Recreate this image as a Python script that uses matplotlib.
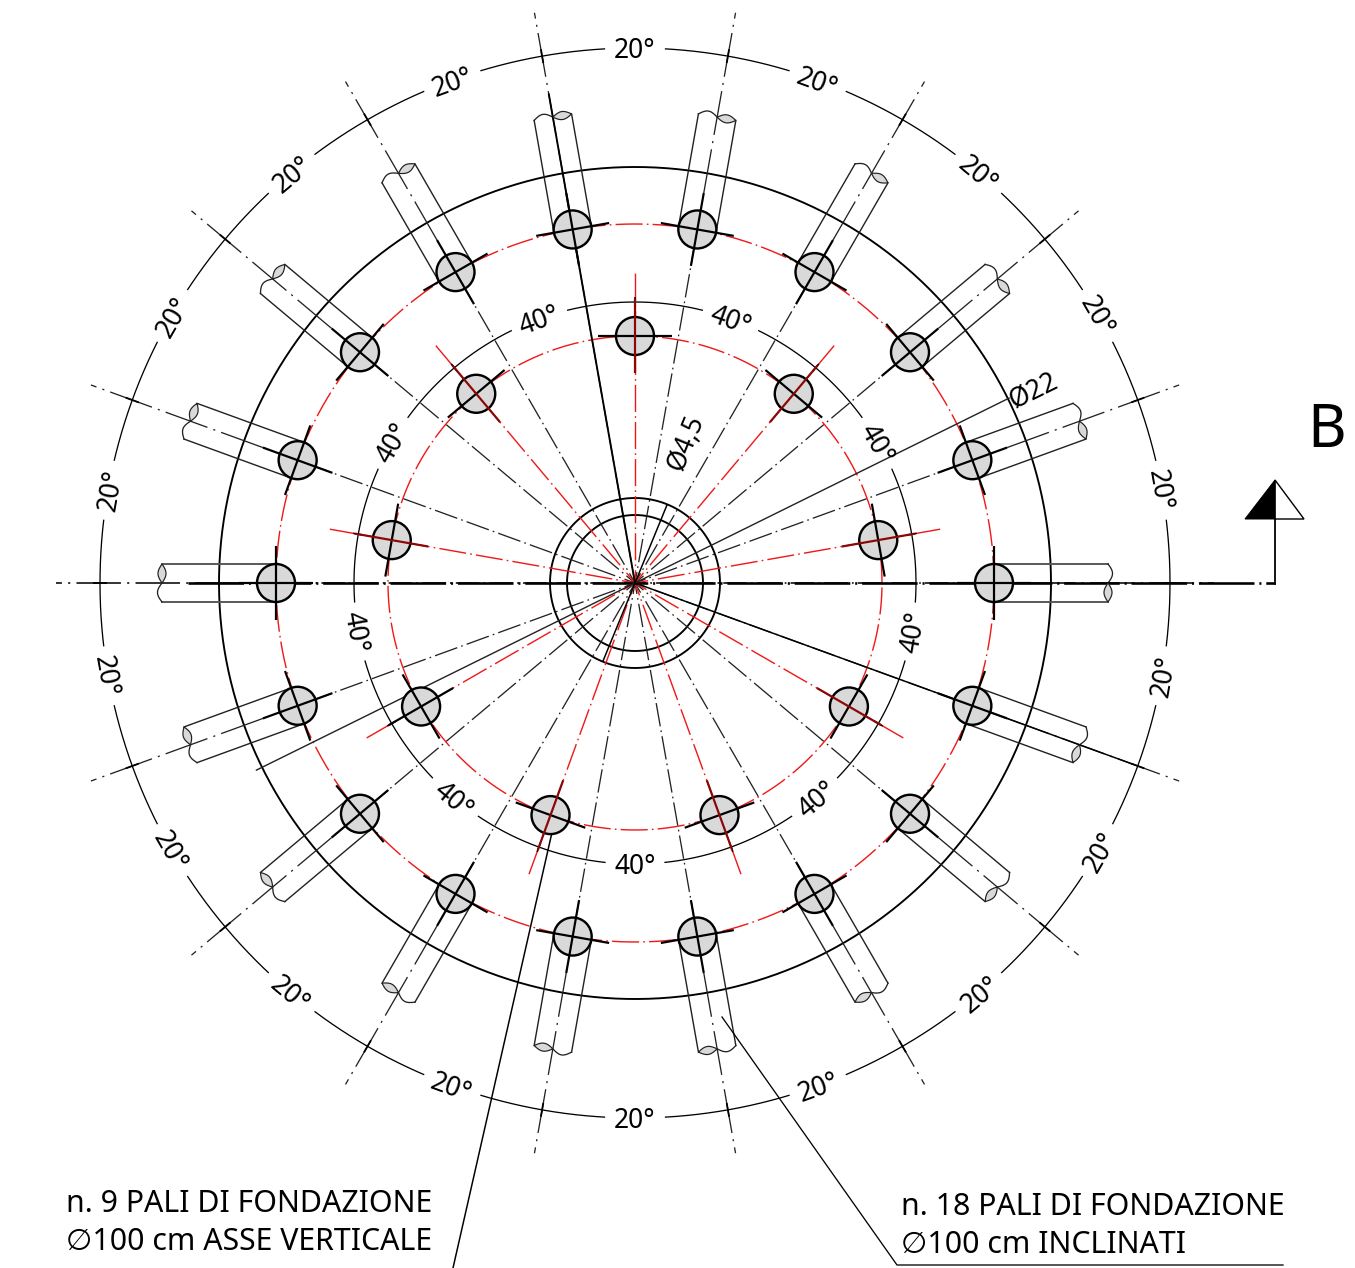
import numpy as np
import matplotlib
matplotlib.use("Agg")
import matplotlib.pyplot as plt
from matplotlib.patches import Circle, Polygon

plt.rcParams['font.family'] = ['Noto Sans', 'DejaVu Sans']
plt.rcParams['lines.scale_dashes'] = False

# --- data -------------------------------------------------------------
outer_pile_angles = [0, 20, 40, 60, 80, 100, 120, 140, 160, 180, 200, 220, 240, 260, 280, 300, 320, 340]
inner_pile_angles = [10, 50, 90, 130, 170, 210, 250, 290, 330]
inner_black_angles = [210]
arc20_label_angles = [90, 70, 50, 30, 10, -10, -30, -50, -70, -90, -110, -130, -150, -170, 170, 150, 130, 110]
arc40_label_angles = [70, 30, -10, -50, -90, -130, -170, 150, 110]
arc20_label = "20°"
arc40_label = "40°"
dia_big_label = "Ø22"
dia_small_label = "Ø4,5"
section_label = "B"
note_left = ["n. 9 PALI DI FONDAZIONE", "∅100 cm ASSE VERTICALE"]
note_right = ["n. 18 PALI DI FONDAZIONE", "∅100 cm INCLINATI"]

# radii, px
CX, CY = 635, 583
R_OUT, R_P1, R_P2 = 416, 359, 247
R_C1, R_C2 = 85, 68
R_A20, R_A40 = 535, 281
R_AX1, R_AX2, R_SL = 579, 310, 473
PILE = 19
ARM = 37

PX = 0.72
fig = plt.figure(figsize=(13.55, 12.68), dpi=100)
ax = fig.add_axes([0, 0, 1, 1])
ax.set_xlim(0, 1355)
ax.set_ylim(1268, 0)
ax.axis('off')

def pol(r, a):
    t = np.radians(a)
    return CX + r * np.cos(t), CY - r * np.sin(t)

def radial(r0, r1, a, **kw):
    x0, y0 = pol(r0, a)
    x1, y1 = pol(r1, a)
    ax.plot([x0, x1], [y0, y1], solid_capstyle='butt', dash_capstyle='butt', **kw)

def arc(r, a0, a1, **kw):
    t = np.linspace(a0, a1, 200)
    x, y = pol(r, t)
    ax.plot(x, y, solid_capstyle='butt', dash_capstyle='butt', **kw)

def local(u, v, a):
    t = np.radians(a)
    return (CX + u * np.cos(t) + v * np.sin(t),
            CY - u * np.sin(t) + v * np.cos(t))

def rot(a):
    a = (a + 180) % 360 - 180
    return a - 90 if a >= 0 else a + 90

def label(r, a, s, fs=19, shift=3.0):
    x, y = pol(r, a)
    ro = rot(a)
    x += shift * np.sin(np.radians(ro))
    y += shift * np.cos(np.radians(ro))
    ax.text(x, y, s, rotation=ro, rotation_mode='anchor', ha='center', va='center',
            fontsize=fs, color='black')

AX_IN = (9, (17, 3, 1.2, 3))
AX_OUT = (0, (32, 4.5, 1.5, 4.5))
RED_DASH = (0, (19.5, 3, 1.2, 3))
RED_AX = (10, (19.5, 3, 1.2, 3))
LW = 1.3 * PX
K = 'black'
R = '#f01818'
DR = '#8a0808'

# circles
t = np.linspace(0, 360, 720)
ax.plot(*pol(R_OUT, t), color=K, lw=1.9 * PX)
ax.plot(*pol(R_C1, t), color=K, lw=1.9 * PX)
ax.plot(*pol(R_C2, t), color=K, lw=1.9 * PX)
ax.plot(*pol(R_P1, t), color=R, lw=1.4 * PX, ls=RED_DASH)
ax.plot(*pol(R_P2, t), color=R, lw=1.4 * PX, ls=RED_DASH)

# dimension arcs
for labels, rad, txt, gap, step in [(arc20_label_angles, R_A20, arc20_label, 3.2, 20),
                                    (arc40_label_angles, R_A40, arc40_label, 6.0, 40)]:
    for a in labels:
        arc(rad, a + gap, a + step - gap, color=K, lw=1.3 * PX)
        label(rad, a, txt)

# axes
for a in outer_pile_angles:
    w = 1.8 * PX if a in (0, 180) else LW
    radial(0, R_P1, a, color='#222222', lw=w, ls=AX_IN)
    radial(R_P1 + ARM, R_AX1, a, color='#222222', lw=w, ls=AX_OUT)
    radial(R_A20 - 7, R_A20 + 7, a, color=K, lw=1.8 * PX)
for a in inner_pile_angles:
    radial(0, R_AX2, a, color=R, lw=1.4 * PX, ls=RED_AX)
    radial(R_A40 - 5, R_A40 + 5, a, color=K, lw=1.6 * PX)

# sleeves of the inclined piles
for a in outer_pile_angles:
    sc, sw = ('#555555', 1.9) if a in (0, 180) else ('#222222', 1.4)
    for v in (-PILE, PILE):
        x0, y0 = local(R_P1, v, a)
        x1, y1 = local(R_SL, v, a)
        ax.plot([x0, x1], [y0, y1], color=sc, lw=sw * PX)
    s = np.linspace(0, 1, 40)
    wx, wy = local(R_SL + 4.5 * np.sin(np.pi * s), -PILE + PILE * s, a)
    ax.plot(wx, wy, color='#222222', lw=1.3 * PX)
    lx1, ly1 = local(R_SL + 4 * np.sin(np.pi * s), PILE * s, a)
    lx2, ly2 = local(R_SL - 4 * np.sin(np.pi * s[::-1]), PILE * s[::-1], a)
    ax.add_patch(Polygon(np.c_[np.r_[lx1, lx2], np.r_[ly1, ly2]], closed=True,
                         fc='#d9d9d9', ec='#222222', lw=1.2 * PX, zorder=2.5))

# section line
ax.plot([188, 1275], [CY, CY], color=K, lw=2.6 * PX, ls=(0, (40, 3.5, 1.5, 3.5)), dash_capstyle='butt')
ax.plot([1275, 1275], [CY + 1, 519], color=K, lw=1.8 * PX)
ax.add_patch(Polygon([[1275, 480], [1304, 519], [1275, 519]], closed=True, fc='white', ec=K, lw=1.4 * PX))
ax.add_patch(Polygon([[1275, 480], [1245, 519], [1275, 519]], closed=True, fc=K, ec=K, lw=1.0 * PX))
ax.text(1327, 431, section_label, fontsize=43, ha='center', va='center', color=K)

# piles
for angles, rad in ((outer_pile_angles, R_P1), (inner_pile_angles, R_P2)):
    for a in angles:
        x, y = pol(rad, a)
        ax.add_patch(Circle((x, y), PILE, fc='#d9d9d9', ec=K, lw=2.4 * PX, zorder=3))
        x0, y0 = local(rad, -ARM, a)
        x1, y1 = local(rad, ARM, a)
        ax.plot([x0, x1], [y0, y1], color=K, lw=2.2 * PX, zorder=4, solid_capstyle='butt')
        c = DR if (rad == R_P2 and a not in inner_black_angles) else K
        radial(rad - ARM, rad + ARM, a, color=c, lw=2.2 * PX, zorder=4)

# solid leaders and diameter lines
radial(0, 497, 100, color=K, lw=1.9 * PX)
radial(0, 530, 340, color=K, lw=1.5 * PX)
radial(-423, 418, 26.3, color='#222222', lw=1.4 * PX)
radial(-85, 85, 67.7, color=K, lw=1.5 * PX)
ax.plot([553, 453], [828, 1268], color=K, lw=1.5 * PX)
ax.plot([722, 897, 1283], [1017, 1265, 1265], color=K, lw=1.3 * PX)

# diameter labels
ax.text(1034, 392, dia_big_label, rotation=26.3, rotation_mode='anchor', ha='center', va='center', fontsize=19)
ax.text(686, 443, dia_small_label, rotation=67.7, rotation_mode='anchor', ha='center', va='center', fontsize=19)

# notes
for s, y in zip(note_left, (1204, 1242)):
    ax.text(66, y, s, fontsize=21.8, ha='left', va='center', color=K)
for s, y in zip(note_right, (1207, 1245)):
    ax.text(901, y, s, fontsize=21.8, ha='left', va='center', color=K)

fig.savefig('out.png', dpi=100)
